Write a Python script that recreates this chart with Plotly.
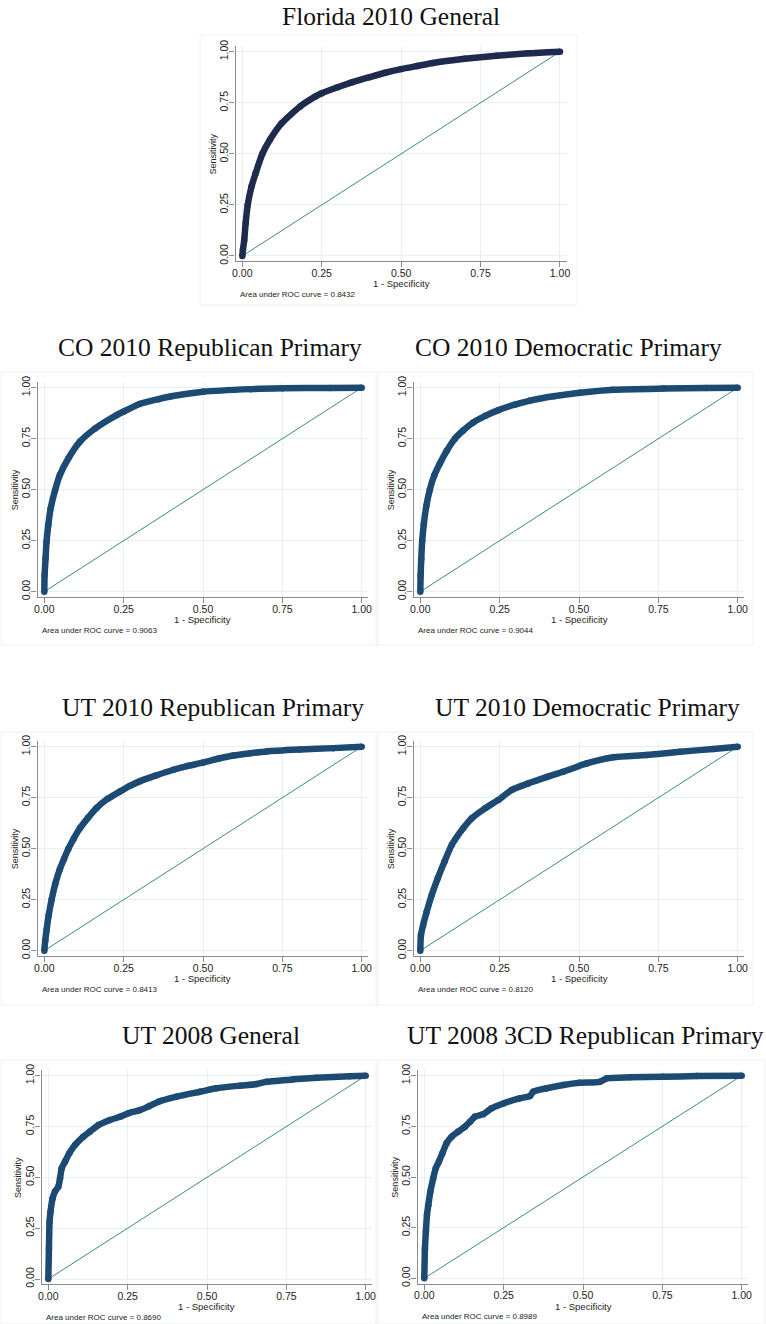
import plotly.graph_objects as go

# ---- ROC curve data (false positive rate, true positive rate) ----
titles = [
    "Florida 2010 General",
    "CO 2010 Republican Primary",
    "CO 2010 Democratic Primary",
    "UT 2010 Republican Primary",
    "UT 2010 Democratic Primary",
    "UT 2008 General",
    "UT 2008 3CD Republican Primary",
]
auc_values = ["0.8432", "0.9063", "0.9044", "0.8413", "0.8120", "0.8690", "0.8989"]

tick_vals = [0, 0.25, 0.5, 0.75, 1.0]
tick_text = ["0.00", "0.25", "0.50", "0.75", "1.00"]

fl_fpr = [0, 0.002, 0.006, 0.0105, 0.017, 0.029, 0.042, 0.063, 0.087, 0.124,
          0.182, 0.229, 0.25, 0.30, 0.345, 0.40, 0.45, 0.50, 0.55, 0.60, 0.70,
          0.80, 0.90, 1.0]
fl_tpr = [0, 0.03, 0.078, 0.16, 0.25, 0.34, 0.405, 0.50, 0.569, 0.65,
          0.732, 0.78, 0.797, 0.826, 0.85, 0.875, 0.897, 0.915, 0.93, 0.945, 0.965,
          0.98, 0.992, 1.0]

co_rep_fpr = [0, 0.001, 0.004, 0.007, 0.0126, 0.02, 0.034, 0.049, 0.076, 0.112,
              0.16, 0.228, 0.249, 0.30, 0.36, 0.40, 0.50, 0.65, 0.75, 0.90, 1.0]
co_rep_tpr = [0, 0.082, 0.163, 0.245, 0.327, 0.408, 0.498, 0.572, 0.654, 0.735,
              0.80, 0.866, 0.882, 0.92, 0.944, 0.958, 0.98, 0.993, 0.997, 0.999, 1.0]

co_dem_fpr = [0, 0.001, 0.003, 0.006, 0.011, 0.019, 0.03, 0.044, 0.062, 0.083,
              0.109, 0.135, 0.167, 0.205, 0.246, 0.30, 0.346, 0.42, 0.503, 0.608,
              0.766, 0.90, 1.0]
co_dem_tpr = [0, 0.08, 0.16, 0.25, 0.33, 0.42, 0.50, 0.57, 0.63, 0.69,
              0.75, 0.79, 0.83, 0.862, 0.89, 0.918, 0.937, 0.958, 0.975, 0.99,
              0.996, 0.999, 1.0]

ut_rep_fpr = [0, 0.003, 0.007, 0.014, 0.023, 0.035, 0.049, 0.062, 0.076, 0.093,
              0.112, 0.137, 0.165, 0.20, 0.238, 0.27, 0.30, 0.35, 0.407, 0.45,
              0.50, 0.55, 0.596, 0.65, 0.70, 0.806, 0.91, 1.0]
ut_rep_tpr = [0, 0.05, 0.10, 0.175, 0.25, 0.33, 0.40, 0.45, 0.50, 0.55,
              0.60, 0.65, 0.70, 0.745, 0.78, 0.808, 0.83, 0.858, 0.887, 0.905,
              0.922, 0.942, 0.957, 0.968, 0.977, 0.986, 0.993, 1.0]

ut_dem_fpr = [0, 0.002, 0.009, 0.02, 0.036, 0.055, 0.076, 0.099, 0.135, 0.162,
              0.204, 0.246, 0.288, 0.34, 0.40, 0.45, 0.524, 0.608, 0.713, 0.818,
              0.923, 1.0]
ut_dem_tpr = [0, 0.077, 0.126, 0.19, 0.273, 0.355, 0.436, 0.518, 0.60, 0.649,
              0.698, 0.739, 0.788, 0.82, 0.852, 0.877, 0.918, 0.948, 0.959, 0.975,
              0.989, 1.0]

ut08_fpr = [0, 0.002, 0.004, 0.007, 0.0137, 0.021, 0.0315, 0.037, 0.042, 0.0525,
            0.066, 0.084, 0.11, 0.131, 0.158, 0.194, 0.226, 0.252, 0.289, 0.315,
            0.347, 0.404, 0.478, 0.53, 0.604, 0.657, 0.688, 0.772, 0.846, 0.95, 1.0]
ut08_tpr = [0, 0.15, 0.282, 0.331, 0.397, 0.43, 0.454, 0.495, 0.544, 0.577,
            0.618, 0.659, 0.70, 0.725, 0.757, 0.782, 0.798, 0.815, 0.831, 0.848,
            0.872, 0.897, 0.921, 0.938, 0.951, 0.959, 0.97, 0.982, 0.99, 0.997, 1.0]

cd3_fpr = [0, 0.002, 0.005, 0.0084, 0.0126, 0.019, 0.028, 0.036, 0.046, 0.057,
           0.070, 0.086, 0.107, 0.128, 0.144, 0.16, 0.186, 0.212, 0.249, 0.30,
           0.333, 0.343, 0.386, 0.438, 0.49, 0.553, 0.575, 0.648, 0.753, 0.858, 1.0]
cd3_tpr = [0, 0.148, 0.23, 0.3125, 0.36, 0.428, 0.493, 0.543, 0.576, 0.617,
           0.666, 0.699, 0.724, 0.748, 0.773, 0.798, 0.81, 0.839, 0.863, 0.888,
           0.90, 0.921, 0.938, 0.954, 0.965, 0.97, 0.987, 0.992, 0.995, 0.998, 1.0]

curves = [
    (fl_fpr, fl_tpr),
    (co_rep_fpr, co_rep_tpr),
    (co_dem_fpr, co_dem_tpr),
    (ut_rep_fpr, ut_rep_tpr),
    (ut_dem_fpr, ut_dem_tpr),
    (ut08_fpr, ut08_tpr),
    (cd3_fpr, cd3_tpr),
]

# ---- page geometry (pixels) ----
W, H = 766, 1324
# pixel positions of the 0 and 1 ticks: (x at 0, x at 1, y at 1, y at 0)
anchors = [
    (242.3, 560.0, 51.7, 256.0),
    (44.3, 361.7, 387.7, 591.7),
    (420.3, 737.7, 387.7, 591.7),
    (44.3, 361.7, 746.7, 950.7),
    (420.3, 737.7, 746.7, 950.7),
    (48.3, 365.7, 1075.7, 1279.0),
    (424.3, 741.7, 1075.7, 1278.3),
]
# title centre (x, y)
title_pos = [(391, 16), (209.5, 347), (568.5, 347), (213.5, 707),
             (587.5, 707), (211, 1035), (585.5, 1035)]
# faint outer frame of each graph region (x0, y0, x1, y1)
frames = [(200, 35, 577, 305), (1, 372, 378, 645), (376, 372, 753, 645),
          (1, 732, 378, 1005), (376, 732, 753, 1005),
          (1, 1060, 378, 1324), (376, 1060, 765, 1324)]

PAD_X, PAD_Y = 0.021, 0.026
SANS = "Liberation Sans, Arial, sans-serif"
SERIF = "Liberation Serif, Times New Roman, serif"
AXIS_GREY = "#8a8a8a"

fig = go.Figure()
annotations = []
shapes = []
layout_axes = {}

for i, ((fpr, tpr), (x0, x1, y1, y0)) in enumerate(zip(curves, anchors)):
    n = i + 1
    xname = "x" if n == 1 else f"x{n}"
    yname = "y" if n == 1 else f"y{n}"
    ux, uy = x1 - x0, y0 - y1
    left, right = x0 - PAD_X * ux, x1 + PAD_X * ux
    top, bottom = y1 - PAD_Y * uy, y0 + PAD_Y * uy

    curve_color = "#1f2b4e" if n == 1 else "#1c4a72"

    # 45-degree reference line
    fig.add_trace(go.Scatter(x=[0, 1], y=[0, 1], mode="lines",
                             line=dict(color="#3f8b7b", width=1),
                             xaxis=xname, yaxis=yname, showlegend=False,
                             hoverinfo="skip"))
    # ROC curve
    fig.add_trace(go.Scatter(x=fpr, y=tpr, mode="lines+markers",
                             line=dict(color=curve_color, width=6.5,
                                       shape="spline", smoothing=0.6),
                             marker=dict(color=curve_color, size=6.5),
                             xaxis=xname, yaxis=yname, showlegend=False))

    common = dict(
        showline=True, linecolor=AXIS_GREY, linewidth=1.3,
        ticks="outside", ticklen=5, tickcolor=AXIS_GREY, tickwidth=1.3,
        tickvals=tick_vals, ticktext=tick_text,
        showgrid=True, gridcolor="#e7eff1", gridwidth=1,
        zeroline=False, automargin=False, fixedrange=True,
        tickfont=dict(family=SANS, size=10.5, color="#222222"),
    )
    layout_axes["xaxis" if n == 1 else f"xaxis{n}"] = dict(
        common, domain=[left / W, right / W], range=[-PAD_X, 1 + PAD_X],
        anchor=yname, ticklabelstandoff=-3)
    layout_axes["yaxis" if n == 1 else f"yaxis{n}"] = dict(
        common, domain=[1 - bottom / H, 1 - top / H], range=[-PAD_Y, 1 + PAD_Y],
        anchor=xname, tickangle=-90, ticklabelstandoff=-3)

    tx, ty = title_pos[i]
    annotations.append(dict(text=titles[i], x=tx / W, y=1 - ty / H,
                            xref="paper", yref="paper", showarrow=False,
                            xanchor="center", yanchor="middle",
                            font=dict(family=SERIF, size=25.5, color="#111111")))
    annotations.append(dict(text="1 - Specificity", x=(left + right) / 2 / W,
                            y=1 - (bottom + 22.5) / H, xref="paper", yref="paper",
                            showarrow=False, xanchor="center", yanchor="middle",
                            font=dict(family=SANS, size=9.5, color="#222222")))
    annotations.append(dict(text="Sensitivity", x=(left - 23) / W,
                            y=1 - (top + bottom) / 2 / H, xref="paper",
                            yref="paper", showarrow=False, textangle=-90,
                            xanchor="center", yanchor="middle",
                            font=dict(family=SANS, size=9, color="#222222")))
    annotations.append(dict(text=f"Area under ROC curve = {auc_values[i]}",
                            x=(left + 2) / W, y=1 - (bottom + 33) / H,
                            xref="paper", yref="paper", showarrow=False,
                            xanchor="left", yanchor="middle",
                            font=dict(family=SANS, size=8, color="#222222")))

    fx0, fy0, fx1, fy1 = frames[i]
    shapes.append(dict(type="rect", xref="paper", yref="paper",
                       x0=fx0 / W, x1=fx1 / W, y0=1 - fy1 / H, y1=1 - fy0 / H,
                       line=dict(color="#eef1f1", width=1), layer="below"))

fig.update_layout(
    width=W, height=H,
    margin=dict(l=0, r=0, t=0, b=0),
    paper_bgcolor="white", plot_bgcolor="white",
    annotations=annotations, shapes=shapes,
    showlegend=False,
    **layout_axes,
)

fig.write_html("out.html")
